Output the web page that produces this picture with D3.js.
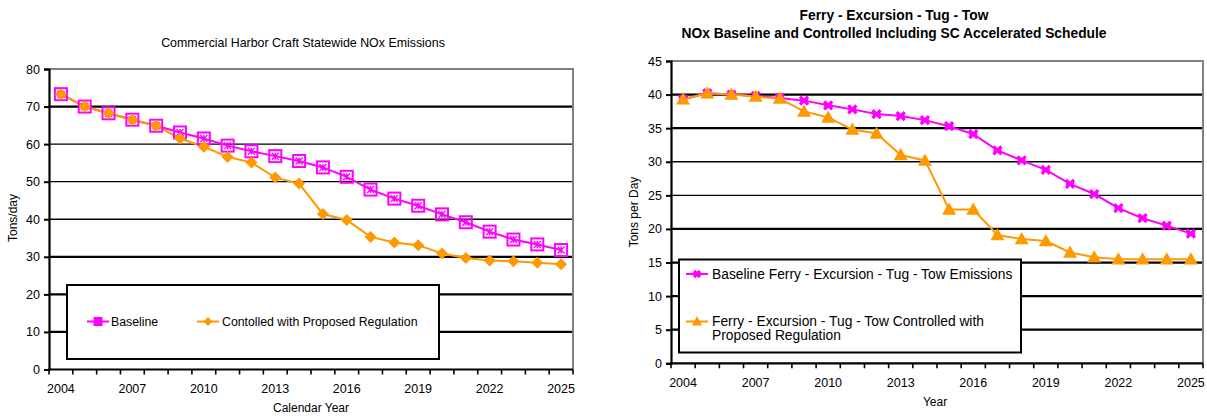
<!DOCTYPE html>
<html>
<head>
<meta charset="utf-8">
<script src="https://cdn.jsdelivr.net/npm/d3@7/dist/d3.min.js"></script>
<style>
  html, body { margin: 0; padding: 0; background: #fff; }
  svg { display: block; font-family: "Liberation Sans", Arial, sans-serif; }
</style>
</head>
<body>
<svg id="chart" width="1207" height="417"></svg>
<script>
// Calendar years shared by both panels
const years = d3.range(2004, 2026).map(String);
const yearLabels = ["2004", "2007", "2010", "2013", "2016", "2019", "2022", "2025"];

// Statewide commercial harbor craft NOx (tons/day)
const statewideBaseline = [73.3, 70.0, 68.2, 66.5, 64.9, 63.1, 61.5, 59.6, 58.1, 56.8, 55.5,
  53.8, 51.3, 47.9, 45.5, 43.6, 41.3, 39.2, 36.7, 34.6, 33.3, 31.8];
const statewideControlled = [73.3, 70.0, 68.2, 66.5, 64.9, 61.5, 59.3, 56.6, 55.1, 51.1, 49.5,
  41.4, 39.8, 35.3, 33.8, 33.1, 30.9, 29.7, 29.0, 28.8, 28.4, 28.0];
const statewideTicks = [0, 10, 20, 30, 40, 50, 60, 70, 80];

// Ferry / excursion / tug / tow NOx (tons per day)
const ferryBaseline = [39.3, 40.2, 40.0, 39.8, 39.5, 39.1, 38.4, 37.8, 37.1, 36.8, 36.2,
  35.3, 34.1, 31.7, 30.2, 28.8, 26.7, 25.2, 23.1, 21.6, 20.5, 19.3];
const ferryControlled = [39.3, 40.2, 40.0, 39.7, 39.4, 37.5, 36.6, 34.8, 34.2, 31.0, 30.2,
  22.9, 22.9, 19.1, 18.5, 18.2, 16.5, 15.8, 15.5, 15.5, 15.5, 15.5];
const ferryTicks = [0, 5, 10, 15, 20, 25, 30, 35, 40, 45];

const MAGENTA = "#ff00ff";
const ORANGE = "#ff9900";
const svg = d3.select("#chart");

function panel(cfg) {
  const g = svg.append("g");
  const x = d3.scaleBand().domain(years).range([cfg.left, cfg.right]);
  const y = d3.scaleLinear().domain([0, d3.max(cfg.ticks)]).range([cfg.bottom, cfg.top]);
  const cx = d => x(d) + x.bandwidth() / 2;

  // horizontal gridlines
  cfg.ticks.slice(1, -1).forEach(t => {
    g.append("line")
      .attr("x1", cfg.left).attr("x2", cfg.right)
      .attr("y1", y(t)).attr("y2", y(t))
      .attr("stroke", "#000")
      .attr("stroke-width", cfg.thick.includes(t) ? 2.2 : 1.3);
  });
  // plot-area frame: grey top and right edges
  g.append("path")
    .attr("d", `M${cfg.left},${y(d3.max(cfg.ticks))}H${cfg.right}V${cfg.bottom}`)
    .attr("fill", "none").attr("stroke", "#808080").attr("stroke-width", 2);

  // y axis
  const ya = g.append("g").attr("transform", `translate(${cfg.left},0)`)
    .call(d3.axisLeft(y).tickValues(cfg.ticks).tickSize(5).tickPadding(4));
  ya.select(".domain").attr("stroke", "#000").attr("stroke-width", 2.2);
  ya.selectAll(".tick line").attr("stroke", "#000").attr("stroke-width", 2);
  ya.selectAll(".tick text").attr("font-size", 12.5).attr("fill", "#000")
    .attr("font-family", "Liberation Sans, Arial, sans-serif");

  // x axis: ticks on band boundaries, labels every third year
  const xa = g.append("g").attr("transform", `translate(0,${cfg.bottom})`);
  xa.append("line").attr("x1", cfg.left - 1).attr("x2", cfg.right)
    .attr("stroke", "#000").attr("stroke-width", 2.2);
  years.concat(["end"]).forEach((d, i) => {
    const px = cfg.left + i * x.bandwidth();
    xa.append("line").attr("x1", px).attr("x2", px).attr("y1", 0).attr("y2", 5)
      .attr("stroke", "#000").attr("stroke-width", 1.6);
  });
  xa.selectAll("text.lab").data(yearLabels).join("text")
    .attr("class", "lab")
    .attr("x", d => cx(d)).attr("y", cfg.labelY - cfg.bottom)
    .attr("text-anchor", "middle").attr("font-size", 12.5).text(d => d);

  // axis titles
  g.append("text").attr("x", cfg.xTitle[0]).attr("y", cfg.xTitle[1])
    .attr("text-anchor", "middle").attr("font-size", 12).text(cfg.xTitleText);
  g.append("text")
    .attr("transform", `translate(${cfg.yTitle[0]},${cfg.yTitle[1]}) rotate(-90)`)
    .attr("text-anchor", "middle").attr("font-size", 12).text(cfg.yTitleText);

  // series
  const line = vals => d3.line().x((v, i) => cx(years[i])).y(v => y(v))(vals);
  cfg.series.forEach(s => {
    g.append("path").attr("d", line(s.values))
      .attr("fill", "none").attr("stroke", s.color).attr("stroke-width", 2);
  });
  cfg.series.forEach(s => {
    s.values.forEach((v, i) => s.marker(g, cx(years[i]), y(v), s.color, 1));
  });

  // legend
  const L = cfg.legend;
  g.append("rect").attr("x", L.x).attr("y", L.y).attr("width", L.w).attr("height", L.h)
    .attr("fill", "#fff").attr("stroke", "#000").attr("stroke-width", 2);
  L.items.forEach((it, k) => {
    const s = cfg.series[k];
    g.append("line").attr("x1", it.mx - 11).attr("x2", it.mx + 11)
      .attr("y1", it.my).attr("y2", it.my).attr("stroke", s.color).attr("stroke-width", 2);
    s.marker(g, it.mx, it.my, s.color, 0.75, true);
    const t = g.append("text").attr("x", it.tx).attr("y", it.my + 4.5)
      .attr("font-size", L.fontSize).attr("fill", "#000");
    it.lines.forEach((ln, j) => {
      t.append("tspan").attr("x", it.tx).attr("dy", j === 0 ? 0 : L.lineGap).text(ln);
    });
  });
  return g;
}

// marker shapes
function boxStar(g, x, y, c, k, legend) {
  const h = 6 * k;
  if (legend) {
    g.append("rect").attr("x", x - h).attr("y", y - h).attr("width", 2 * h).attr("height", 2 * h)
      .attr("fill", c);
    return;
  }
  g.append("rect").attr("x", x - h).attr("y", y - h).attr("width", 2 * h).attr("height", 2 * h)
    .attr("fill", "none").attr("stroke", c).attr("stroke-width", 2);
  const a = h - 2.5;
  g.append("path")
    .attr("d", `M${x - a},${y - a}L${x + a},${y + a}M${x + a},${y - a}L${x - a},${y + a}M${x},${y - a}V${y + a}`)
    .attr("stroke", c).attr("stroke-width", 1.4);
}
function diamond(g, x, y, c, k) {
  const r = 6 * k;
  g.append("path").attr("d", `M${x},${y - r}L${x + r},${y}L${x},${y + r}L${x - r},${y}Z`)
    .attr("fill", c);
}
function starX(g, x, y, c, k) {
  const r = 4 * k;
  g.append("path")
    .attr("d", `M${x - r},${y - r}L${x + r},${y + r}M${x + r},${y - r}L${x - r},${y + r}M${x - r},${y}H${x + r}`)
    .attr("stroke", c).attr("stroke-width", 3.2);
}
function triangle(g, x, y, c, k) {
  const r = 7 * k;
  g.append("path").attr("d", `M${x},${y - r}L${x + r},${y + r * 0.75}L${x - r},${y + r * 0.75}Z`)
    .attr("fill", c);
}

panel({
  left: 49, right: 573, top: 69, bottom: 369.5,
  ticks: statewideTicks, thick: [70, 30, 20, 10],
  labelY: 393,
  xTitle: [311, 412], xTitleText: "Calendar Year",
  yTitle: [17, 218], yTitleText: "Tons/day",
  series: [
    { values: statewideBaseline, color: MAGENTA, marker: boxStar },
    { values: statewideControlled, color: ORANGE, marker: diamond }
  ],
  legend: {
    x: 67, y: 285, w: 372, h: 74, fontSize: 12.3, lineGap: 14,
    items: [
      { mx: 98, my: 321.5, tx: 111, lines: ["Baseline"] },
      { mx: 208, my: 321.5, tx: 222, lines: ["Contolled with Proposed Regulation"] }
    ]
  }
});

panel({
  left: 671, right: 1203, top: 61, bottom: 363.3,
  ticks: ferryTicks, thick: [40, 35, 20, 15, 10, 5],
  labelY: 387,
  xTitle: [935, 406], xTitleText: "Year",
  yTitle: [638, 212], yTitleText: "Tons per Day",
  series: [
    { values: ferryBaseline, color: MAGENTA, marker: starX },
    { values: ferryControlled, color: ORANGE, marker: triangle }
  ],
  legend: {
    x: 679, y: 259.5, w: 342, h: 93, fontSize: 13.8, lineGap: 14,
    items: [
      { mx: 697, my: 274, tx: 712, lines: ["Baseline Ferry - Excursion - Tug - Tow Emissions"] },
      { mx: 697, my: 321.5, tx: 712, lines: ["Ferry - Excursion - Tug - Tow Controlled with", "Proposed Regulation"] }
    ]
  }
});

// panel titles
svg.append("text").attr("x", 303).attr("y", 47).attr("text-anchor", "middle")
  .attr("font-size", 12.4).text("Commercial Harbor Craft Statewide NOx Emissions");
svg.append("text").attr("x", 894).attr("y", 20).attr("text-anchor", "middle")
  .attr("font-size", 13.8).attr("font-weight", "bold").text("Ferry - Excursion - Tug - Tow");
svg.append("text").attr("x", 894).attr("y", 37.5).attr("text-anchor", "middle")
  .attr("font-size", 13.8).attr("font-weight", "bold")
  .text("NOx Baseline and Controlled Including SC Accelerated Schedule");
</script>
</body>
</html>
